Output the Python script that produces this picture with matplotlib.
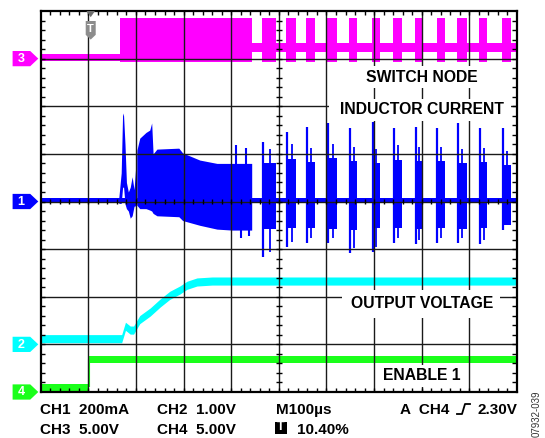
import numpy as np
import matplotlib.pyplot as plt
from matplotlib.patches import Polygon, Rectangle
from matplotlib.lines import Line2D

plt.rcParams['font.family'] = ['Liberation Sans', 'DejaVu Sans']
plt.rcParams['font.weight'] = 'bold'

W, H = 545, 438

# all trace values in screen divisions (x 0..10, y 0..8)
# CH3 switch node
sw_lead_x = [0.0, 1.66]
sw_lead_lo, sw_lead_hi = 6.94, 7.10
sw_dense_x = [1.66, 4.43]
sw_dense_lo, sw_dense_hi = 6.93, 7.86
sw_idle_x = [4.43, 10.0]
sw_idle_lo, sw_idle_hi = 7.14, 7.33

# pulse-skip bursts (shared timing CH3 / CH1)
burst_start = [4.64, 5.16, 5.58, 6.02, 6.48, 6.95, 7.39, 7.85, 8.31, 8.75, 9.21, 9.69]
burst_end = [4.95, 5.37, 5.75, 6.23, 6.65, 7.13, 7.58, 8.02, 8.48, 8.94, 9.38, 9.88]

# CH1 inductor current
il_base_lo, il_base_hi = 3.96, 4.08
il_start_x = [1.64, 1.69, 1.72, 1.74, 1.77, 1.80, 1.84, 1.88, 1.92, 1.96, 2.02]
il_start_hi = [4.08, 4.60, 5.86, 5.80, 5.20, 4.40, 4.20, 4.30, 4.52, 4.25, 5.08]
il_start_lo = [3.96, 3.96, 4.30, 4.30, 3.95, 3.85, 3.80, 3.65, 3.70, 3.90, 3.92]
il_dense_x = [2.02, 2.08, 2.21, 2.29, 2.33, 2.36, 2.44, 2.90, 2.98, 3.34, 3.70, 4.01, 4.43]
il_dense_hi = [5.08, 5.33, 5.45, 5.50, 5.65, 5.00, 5.10, 5.12, 5.02, 4.87, 4.80, 4.80, 4.80]
il_dense_lo = [3.92, 3.85, 3.85, 3.82, 3.80, 3.75, 3.70, 3.68, 3.60, 3.50, 3.42, 3.40, 3.40]
il_spike_x = [4.10, 4.30, 4.20, 4.38]
il_spike_y = [5.18, 5.12, 3.23, 3.28]
il_peak = [5.25, 5.46, 5.57, 5.65, 5.55, 5.67, 5.55, 5.57, 5.55, 5.65, 5.55, 5.55]
il_top = [4.80, 4.90, 4.83, 4.91, 4.85, 4.80, 4.88, 4.85, 4.85, 4.80, 4.82, 4.76]
il_bot = [3.42, 3.45, 3.45, 3.42, 3.40, 3.45, 3.45, 3.42, 3.45, 3.42, 3.45, 3.50]
il_min = [2.84, 3.05, 3.13, 3.13, 2.92, 2.94, 3.13, 3.10, 3.13, 3.13, 3.10, 3.40]

# CH2 output voltage
vo_x = [0.0, 1.70, 1.78, 1.88, 1.95, 2.08, 2.30, 2.51, 2.71, 2.92, 3.07, 3.28, 3.60, 10.0]
vo_mid = [1.12, 1.12, 1.38, 1.30, 1.30, 1.52, 1.68, 1.87, 2.03, 2.14, 2.24, 2.31, 2.33, 2.33]

# CH4 enable
en_x = [0.0, 1.02, 1.02, 10.0]
en_y = [0.10, 0.10, 0.69, 0.69]

MAG, BLU, CYA, GRN = '#ff00ff', '#0000ff', '#00ffff', '#1aff1a'

fig = plt.figure(figsize=(W / 100, H / 100), dpi=100)
ax = fig.add_axes([40.7 / W, 46 / H, 476.3 / W, 381 / H])
ax.set_xlim(0, 10)
ax.set_ylim(0, 8)
ax.set_xticks([])
ax.set_yticks([])
for s in ax.spines.values():
    s.set_linewidth(1.6)
    s.set_zorder(6)


def px2div(px, py):
    return (px - 40.7) / 47.63, (392 - py) / 47.63


# traces
ax.fill_between(sw_lead_x, sw_lead_lo, sw_lead_hi, color=MAG, lw=0, zorder=2)
ax.fill_between(sw_idle_x, sw_idle_lo, sw_idle_hi, color=MAG, lw=0, zorder=2)
ax.fill_between(sw_dense_x, sw_dense_lo, sw_dense_hi, color=MAG, lw=0, zorder=2)
for s, e in zip(burst_start, burst_end):
    ax.fill_between([s, e], sw_dense_lo, sw_dense_hi, color=MAG, lw=0, zorder=2)

ax.fill_between([0, 10], il_base_lo, il_base_hi, color=BLU, lw=0, zorder=2)
ax.fill_between(il_start_x, il_start_lo, il_start_hi, color=BLU, lw=0, zorder=2)
ax.fill_between(il_dense_x, il_dense_lo, il_dense_hi, color=BLU, lw=0, zorder=2)
for x, y in zip(il_spike_x, il_spike_y):
    ax.vlines(x, 4.0, y, color=BLU, lw=1.5, zorder=2)
for s, e, pk, tp, bt, mn in zip(burst_start, burst_end, il_peak, il_top, il_bot, il_min):
    ax.vlines(s + 0.02, mn, pk, color=BLU, lw=1.6, zorder=2)
    ax.fill_between([s + 0.04, e], bt, tp, color=BLU, lw=0, zorder=2)
    ax.vlines(s + 0.55 * (e - s), mn + 0.1, tp + 0.3, color=BLU, lw=1.3, zorder=2)

vo_mid = np.array(vo_mid)
ax.fill_between(vo_x, vo_mid - 0.085, vo_mid + 0.085, color=CYA, lw=0, zorder=2)

en_y = np.array(en_y)
ax.fill_between(en_x, en_y - 0.075, en_y + 0.075, color=GRN, lw=0, zorder=2)
ax.vlines(en_x[1], en_y[0], en_y[2], color=GRN, lw=1.5, zorder=2)

# graticule
for i in range(1, 10):
    ax.axvline(i, color='#1a1a1a', lw=1.0, zorder=3)
for j in range(1, 8):
    ax.axhline(j, color='#1a1a1a', lw=1.0, zorder=3)
xm = np.arange(0.2, 10, 0.2)
ym = np.arange(0.2, 8, 0.2)
ax.vlines(xm, 8 - 0.09, 8, color='k', lw=1, zorder=6)
ax.vlines(xm, 0, 0.09, color='k', lw=1, zorder=6)
ax.vlines(xm, 4 - 0.055, 4 + 0.055, color='k', lw=1, zorder=6)
ax.hlines(ym, 0, 0.1, color='k', lw=1, zorder=6)
ax.hlines(ym, 10 - 0.1, 10, color='k', lw=1, zorder=6)
ax.hlines(ym, 5 - 0.06, 5 + 0.06, color='k', lw=1, zorder=6)

# labels with white boxes that break the graticule
labels = [('SWITCH NODE', 77.5, (355, 490, 66, 88)),
          ('INDUCTOR CURRENT', 109, (329, 511, 99, 121)),
          ('OUTPUT VOLTAGE', 303, (342, 500, 290, 318)),
          ('ENABLE 1', 375.5, (378, 466, 365, 387))]
for txt, py, (x0, x1, y0, y1) in labels:
    a, b = px2div(x0, y1)
    c, d = px2div(x1, y0)
    ax.add_patch(Rectangle((a, b), c - a, d - b, facecolor='white', edgecolor='none', zorder=4))
    tx, ty = px2div(422, py)
    ax.text(tx, ty, txt, ha='center', va='center', fontsize=11.3, fontweight='bold', zorder=7)

# channel markers
for num, lvl, col in [('3', 7, MAG), ('1', 4, BLU), ('2', 1, CYA), ('4', 0, GRN)]:
    pts = [(-0.59, lvl - 0.16), (-0.22, lvl - 0.16), (-0.05, lvl), (-0.22, lvl + 0.16), (-0.59, lvl + 0.16)]
    ax.add_patch(Polygon(pts, closed=True, facecolor=col, edgecolor='none', clip_on=False, zorder=8))
    ax.text(-0.41, lvl - 0.01, num, color='white', ha='center', va='center', fontsize=9,
            fontweight='bold', clip_on=False, zorder=9)

# trigger marker
tx = 1.05
ax.add_patch(Polygon([(tx - 0.09, 8.0), (tx + 0.09, 8.0), (tx, 7.87)], closed=True,
                     facecolor='#6e6e6e', edgecolor='none', zorder=8))
ax.add_patch(Polygon([(tx - 0.105, 7.79), (tx + 0.105, 7.79), (tx + 0.105, 7.50), (tx, 7.40),
                      (tx - 0.105, 7.50)], closed=True, facecolor='#8c8c8c', edgecolor='none', zorder=8))
ax.text(tx, 7.63, 'T', color='white', ha='center', va='center', fontsize=8, fontweight='bold', zorder=9)


# settings text under the screen
def ftext(px, py, s, **kw):
    fig.text(px / W, 1 - py / H, s, fontsize=11, fontweight='bold', va='baseline', **kw)


ftext(40, 414, 'CH1  200mA')
ftext(157, 414, 'CH2  1.00V')
ftext(276, 414, 'M100µs')
ftext(400, 414, 'A  CH4')
ftext(517, 414, '2.30V', ha='right')
ftext(40, 434, 'CH3  5.00V')
ftext(157, 434, 'CH4  5.00V')
ftext(297, 434, '10.40%')
fig.patches.append(Rectangle((275 / W, 1 - 434 / H), 12 / W, 12.5 / H, transform=fig.transFigure,
                             facecolor='black', edgecolor='none'))
fig.text(281 / W, 1 - 427.5 / H, 'T', color='white', fontsize=9, fontweight='bold', ha='center', va='center')
ex = np.array([457, 462, 465, 470]) / W
ey = 1 - np.array([414, 414, 404, 404]) / H
fig.lines.append(Line2D(ex, ey, transform=fig.transFigure, color='black', lw=1.3))
fig.text(537 / W, 1 - 437 / H, '07932-039', rotation=90, fontsize=7, fontweight='normal',
         color='#333333', ha='center', va='bottom')

fig.savefig('out.png', dpi=100)
